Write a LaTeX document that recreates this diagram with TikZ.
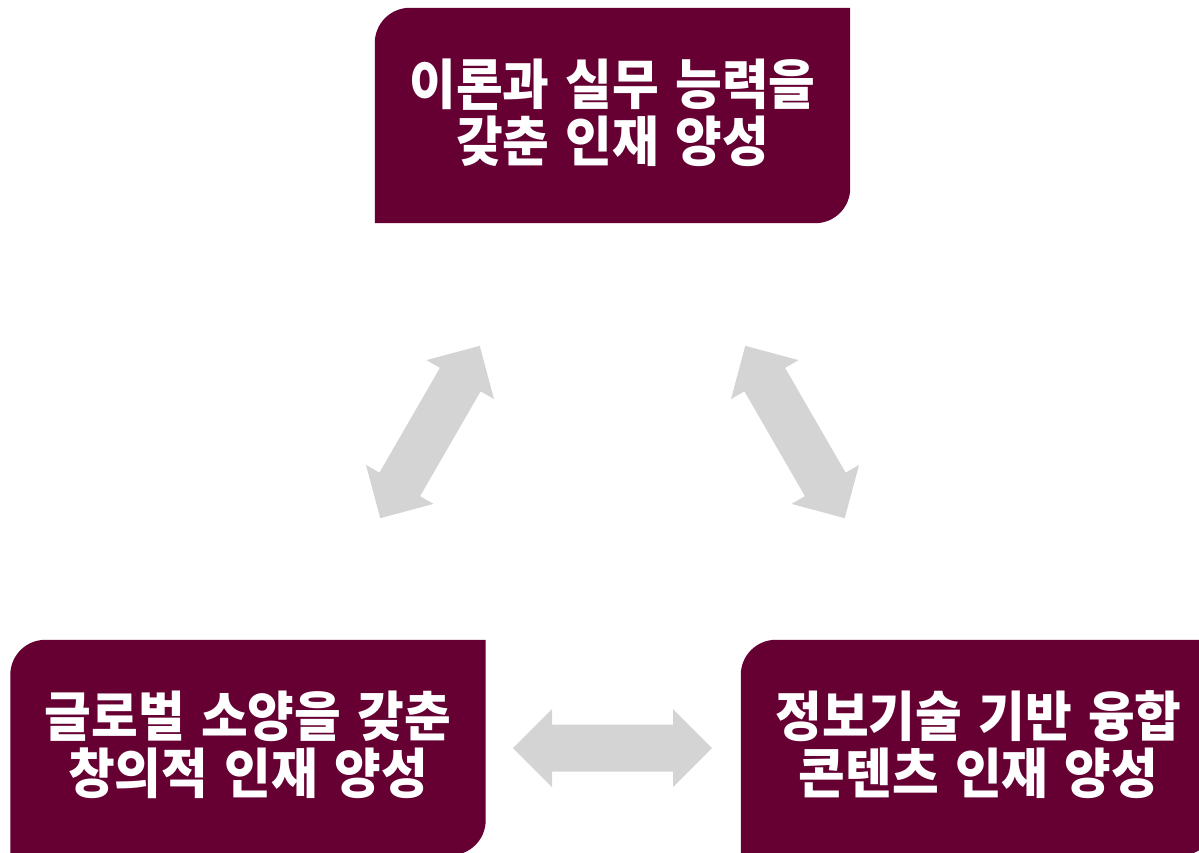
\documentclass[tikz,border=0pt]{standalone}
\usepackage{fontspec}
\newfontfamily\kr{Noto Sans CJK KR}[FakeStretch=0.94, WordSpace=1.4]
\definecolor{boxc}{HTML}{660033}
\definecolor{arrc}{HTML}{D4D4D4}
\tikzset{
  x=1pt, y=-1pt,
  boxnode/.style={minimum width=475pt, minimum height=215pt, inner sep=0pt},
  boxtext/.style={inner sep=0pt, yshift=3pt,
    text=white, align=center, font=\kr\bfseries\fontsize{54}{57}\selectfont},
  dblarr/.pic={
    \fill[arrc] (-99.5,0) -- (-60.5,-39) -- (-60.5,-23.5) -- (60.5,-23.5) -- (60.5,-39)
      -- (99.5,0) -- (60.5,39) -- (60.5,23.5) -- (-60.5,23.5) -- (-60.5,39) -- cycle;
  }
}
\newcommand{\cornerbox}[1]{%
  \fill[boxc] (#1.south west) -- ([yshift=-35pt]#1.north west)
    arc[start angle=180, end angle=90, radius=35pt]
    -- (#1.north east) -- ([yshift=35pt]#1.south east)
    arc[start angle=0, end angle=-90, radius=35pt] -- cycle;}
\begin{document}
\begin{tikzpicture}
\useasboundingbox (0,0) rectangle (1199,852);
\clip (0,0) rectangle (1199,852);
\node[boxnode] (top) at (612.5,115.5) {};
\node[boxnode] (left) at (248,747.5) {};
\node[boxnode] (right) at (978.5,747.5) {};
\cornerbox{top}
\cornerbox{left}
\cornerbox{right}
\node[boxtext] (toptext) at (top) {이론과 실무 능력을\\갖춘 인재 양성};
\node[boxtext] (lefttext) at (left) {글로벌 소양을 갖춘\\창의적 인재 양성};
\node[boxtext] (righttext) at (right) {정보기술 기반 융합\\콘텐츠 인재 양성};
\pic[rotate=60] at (430,432) {dblarr};
\pic[rotate=-60] at (795,432) {dblarr};
\pic at (612.5,748) {dblarr};
\end{tikzpicture}
\end{document}
